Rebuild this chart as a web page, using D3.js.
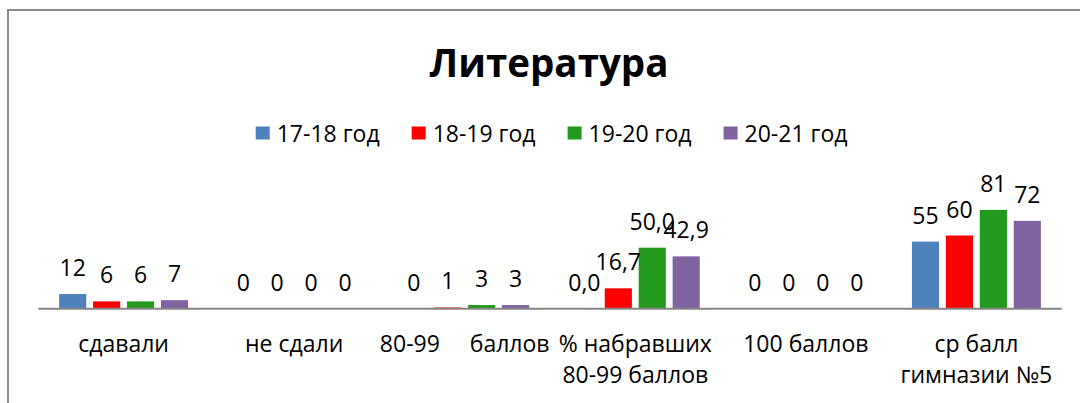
<!DOCTYPE html>
<html>
<head>
<meta charset="utf-8">
<script src="https://cdn.jsdelivr.net/npm/d3@7"></script>
<style>
  html, body { margin: 0; padding: 0; background: #fff; }
  svg { display: block; }
  text { font-family: "Open Sans", "Noto Sans", sans-serif; fill: #000; }
</style>
</head>
<body>
<svg id="chart" width="1080" height="403"></svg>
<script>
// ---- data ----
const title = "Литература";
const categories = [
  ["сдавали"],
  ["не сдали"],
  ["80-99     баллов"],
  ["% набравших", "80-99 баллов"],
  ["100 баллов"],
  ["ср балл", "гимназии №5"]
];
const seriesNames = ["17-18 год", "18-19 год", "19-20 год", "20-21 год"];
const s1718 = [12, 0, 0, 0.0, 0, 55];
const s1819 = [6, 0, 1, 16.7, 0, 60];
const s1920 = [6, 0, 3, 50.0, 0, 81];
const s2021 = [7, 0, 3, 42.9, 0, 72];
const decimals = [0, 0, 0, 1, 0, 0];
const colors = ["#4F81BD", "#FF0000", "#239A1E", "#8064A2"];

const seriesValues = [s1718, s1819, s1920, s2021];
const catIdx = categories.map((d, i) => i);

// ---- layout ----
const svg = d3.select("#chart");
const plotLeft = 38.3, plotRight = 1061.7, baseY = 308.7;
const fs = "23px";

// outer chart border (only top/left visible)
svg.append("rect")
  .attr("x", 8).attr("y", 10)
  .attr("width", 1200).attr("height", 600)
  .attr("fill", "none").attr("stroke", "#8c8c8c").attr("stroke-width", 2);

const x0 = d3.scaleBand().domain(catIdx).range([plotLeft, plotRight])
  .paddingInner(0.244).paddingOuter(0.122);
const x1 = d3.scaleBand().domain(d3.range(seriesNames.length))
  .range([0, x0.bandwidth()]).paddingInner(0.2).paddingOuter(0);
const y = d3.scaleLinear().domain([0, 100]).range([baseY, baseY - 122]);

// title
svg.append("text")
  .attr("x", 549).attr("y", 77)
  .attr("text-anchor", "middle")
  .style("font-size", "38.5px").style("font-weight", "bold")
  .text(title);

// legend
const legend = svg.append("g");
let lx = 255.7;
seriesNames.forEach((name, i) => {
  legend.append("rect").attr("x", lx).attr("y", 126.5)
    .attr("width", 14).attr("height", 13).attr("fill", colors[i]);
  const t = legend.append("text").attr("x", lx + 21).attr("y", 141.7)
    .style("font-size", fs).text(name);
  const w = t.node().getComputedTextLength();
  lx = lx + 21 + w + 32;
});

// bars
const groups = svg.append("g").selectAll("g")
  .data(catIdx).join("g")
  .attr("transform", c => `translate(${x0(c)},0)`);

groups.selectAll("rect")
  .data(c => seriesValues.map((vals, s) => ({ c, s, v: vals[c] })))
  .join("rect")
  .attr("x", d => x1(d.s))
  .attr("width", x1.bandwidth())
  .attr("y", d => y(d.v))
  .attr("height", d => baseY - y(d.v))
  .attr("fill", d => colors[d.s]);

// data labels
groups.selectAll("text.lbl")
  .data(c => seriesValues.map((vals, s) => ({ c, s, v: vals[c] })))
  .join("text").attr("class", "lbl")
  .attr("x", d => x1(d.s) + x1.bandwidth() / 2)
  .attr("y", d => y(d.v) - 18)
  .attr("text-anchor", "middle")
  .style("font-size", fs)
  .text(d => d3.format("." + decimals[d.c] + "f")(d.v).replace(".", ","));

// category axis line
const xAxis = d3.axisBottom(x0).tickSize(0).tickFormat("");
const axG = svg.append("g").attr("transform", `translate(0,${baseY})`).call(xAxis);
axG.select(".domain").attr("stroke", "#868686").attr("stroke-width", 2)
  .attr("d", `M${plotLeft},0H${plotRight}`);

// category labels
const catLabels = svg.append("g");
catIdx.forEach(c => {
  const t = catLabels.append("text")
    .attr("x", x0(c) + x0.bandwidth() / 2)
    .attr("y", 351.5)
    .attr("text-anchor", "middle")
    .attr("xml:space", "preserve")
    .style("white-space", "pre")
    .style("font-size", fs);
  categories[c].forEach((line, li) => {
    t.append("tspan")
      .attr("x", x0(c) + x0.bandwidth() / 2)
      .attr("dy", li === 0 ? 0 : 31.7)
      .text(line);
  });
});
</script>
</body>
</html>
